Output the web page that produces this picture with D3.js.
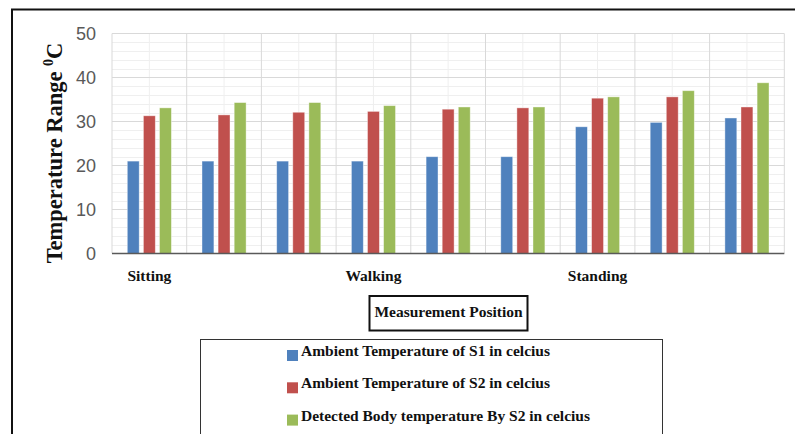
<!DOCTYPE html>
<html><head><meta charset="utf-8">
<script src="https://cdn.jsdelivr.net/npm/d3@7"></script>
<style>body{margin:0;background:#fff;} svg{display:block;}</style>
</head><body>
<script>
const categories = ["c1","c2","c3","c4","c5","c6","c7","c8","c9"];
const categoryLabels = ["Sitting","","","Walking","","","Standing","",""];
const seriesNames = ["Ambient Temperature of S1 in celcius","Ambient Temperature of S2 in celcius","Detected Body temperature By S2 in celcius"];
const s1Ambient = [21,21,21,21,22,22,28.8,29.8,30.8];
const s2Ambient = [31.3,31.5,32.1,32.3,32.8,33.1,35.3,35.6,33.3];
const s2Body = [33.1,34.3,34.3,33.6,33.3,33.3,35.6,37.0,38.8];
const yTicks = [0,10,20,30,40,50];
const colors = ["#4f81bd","#c0504d","#9bbb59"];
const seriesValues = [s1Ambient, s2Ambient, s2Body];

const W=795,H=434;
const svg=d3.select("body").append("svg").attr("width",W).attr("height",H);
svg.append("rect").attr("width",W).attr("height",H).attr("fill","#fff");

const L=112,R=784.3,T=33.5,B=253.5;
const x=d3.scaleBand().domain(categories).range([L,R]);
const y=d3.scaleLinear().domain([0,50]).range([B,T]);
const serif="Liberation Serif, Times New Roman, serif";

// outer border
svg.append("path").attr("d",`M12,${H+2}V9.5H${W+2}`).attr("fill","none").attr("stroke","#111").attr("stroke-width",2);

// minor horizontal gridlines
const minor=d3.range(0,51,2).filter(v=>v%10!==0);
svg.append("g").selectAll("line").data(minor).join("line")
 .attr("x1",L).attr("x2",R).attr("y1",d=>Math.round(y(d))+0.5).attr("y2",d=>Math.round(y(d))+0.5)
 .attr("stroke","#efefef").attr("stroke-width",1);
// minor vertical gridlines at category centers
svg.append("g").selectAll("line").data(categories).join("line")
 .attr("x1",d=>x(d)+x.bandwidth()/2).attr("x2",d=>x(d)+x.bandwidth()/2).attr("y1",T).attr("y2",B)
 .attr("stroke","#efefef").attr("stroke-width",1);
// major horizontal
svg.append("g").selectAll("line").data(yTicks.filter(v=>v>0)).join("line")
 .attr("x1",L).attr("x2",R).attr("y1",d=>y(d)).attr("y2",d=>y(d))
 .attr("stroke","#d9d9d9").attr("stroke-width",1);
// major vertical at category boundaries
const bounds=categories.map(c=>x(c)).concat([R]);
svg.append("g").selectAll("line").data(bounds).join("line")
 .attr("x1",d=>d).attr("x2",d=>d).attr("y1",T).attr("y2",B)
 .attr("stroke","#d9d9d9").attr("stroke-width",1);

// bars
const inner=d3.scaleBand().domain([0,1,2]).range([0,x.bandwidth()]).paddingInner(0.26).paddingOuter(0.95);
seriesValues.forEach((vals,si)=>{
  svg.append("g").selectAll("rect").data(vals).join("rect")
   .attr("x",(d,i)=>x(categories[i])+inner(si))
   .attr("width",inner.bandwidth())
   .attr("y",d=>y(d)).attr("height",d=>B-y(d))
   .attr("fill",colors[si]).attr("stroke","#fff").attr("stroke-opacity",0.5).attr("stroke-width",0.8);
});

// x axis line
svg.append("line").attr("x1",L).attr("x2",R).attr("y1",B).attr("y2",B).attr("stroke","#595959").attr("stroke-width",1.5);

// y ticks
const yAxis=d3.axisLeft(y).tickValues(yTicks).tickSize(0).tickPadding(16);
const ya=svg.append("g").attr("transform",`translate(${L},0)`).call(yAxis);
ya.select(".domain").remove();
ya.selectAll("text").attr("font-family","Liberation Sans, Arial, sans-serif").attr("font-size",18).attr("fill","#595959");

// category labels
const xAxis=d3.axisBottom(x).tickFormat((d,i)=>categoryLabels[i]).tickSize(0).tickPadding(16);
const xa=svg.append("g").attr("transform",`translate(0,${B})`).call(xAxis);
xa.select(".domain").remove();
xa.selectAll("text").attr("font-family",serif).attr("font-weight","bold").attr("font-size",15.5).attr("fill","#111");

// y title
const yt=svg.append("text").attr("transform","translate(62,153) rotate(-90)").attr("text-anchor","middle")
 .attr("font-family",serif).attr("font-weight","bold").attr("font-size",22.5).attr("fill","#111");
yt.append("tspan").text("Temperature Range ");
yt.append("tspan").text("0").attr("font-size",14).attr("dy",-9);
yt.append("tspan").text("C").attr("dy",9);

// x title box
svg.append("rect").attr("x",369.5).attr("y",296).attr("width",158).attr("height",34.5).attr("fill","#fff").attr("stroke","#111").attr("stroke-width",2);
svg.append("text").attr("x",448.5).attr("y",313.5).attr("text-anchor","middle").attr("dominant-baseline","middle")
 .attr("font-family",serif).attr("font-weight","bold").attr("font-size",15.5).attr("fill","#111")
 .text("Measurement Position");

// legend box
svg.append("rect").attr("x",200.5).attr("y",339.5).attr("width",462).attr("height",120).attr("fill","#fff").attr("stroke","#333").attr("stroke-width",1);
const lg=svg.append("g").selectAll("g").data(seriesNames).join("g")
 .attr("transform",(d,i)=>`translate(287,${349+i*32.3})`);
lg.append("rect").attr("width",11).attr("height",11).attr("y",1).attr("fill",(d,i)=>colors[i]);
lg.append("text").attr("x",14).attr("y",3.5).attr("dominant-baseline","middle")
 .attr("font-family",serif).attr("font-weight","bold").attr("font-size",15.5).attr("fill","#111")
 .text(d=>d);
</script>
</body></html>
